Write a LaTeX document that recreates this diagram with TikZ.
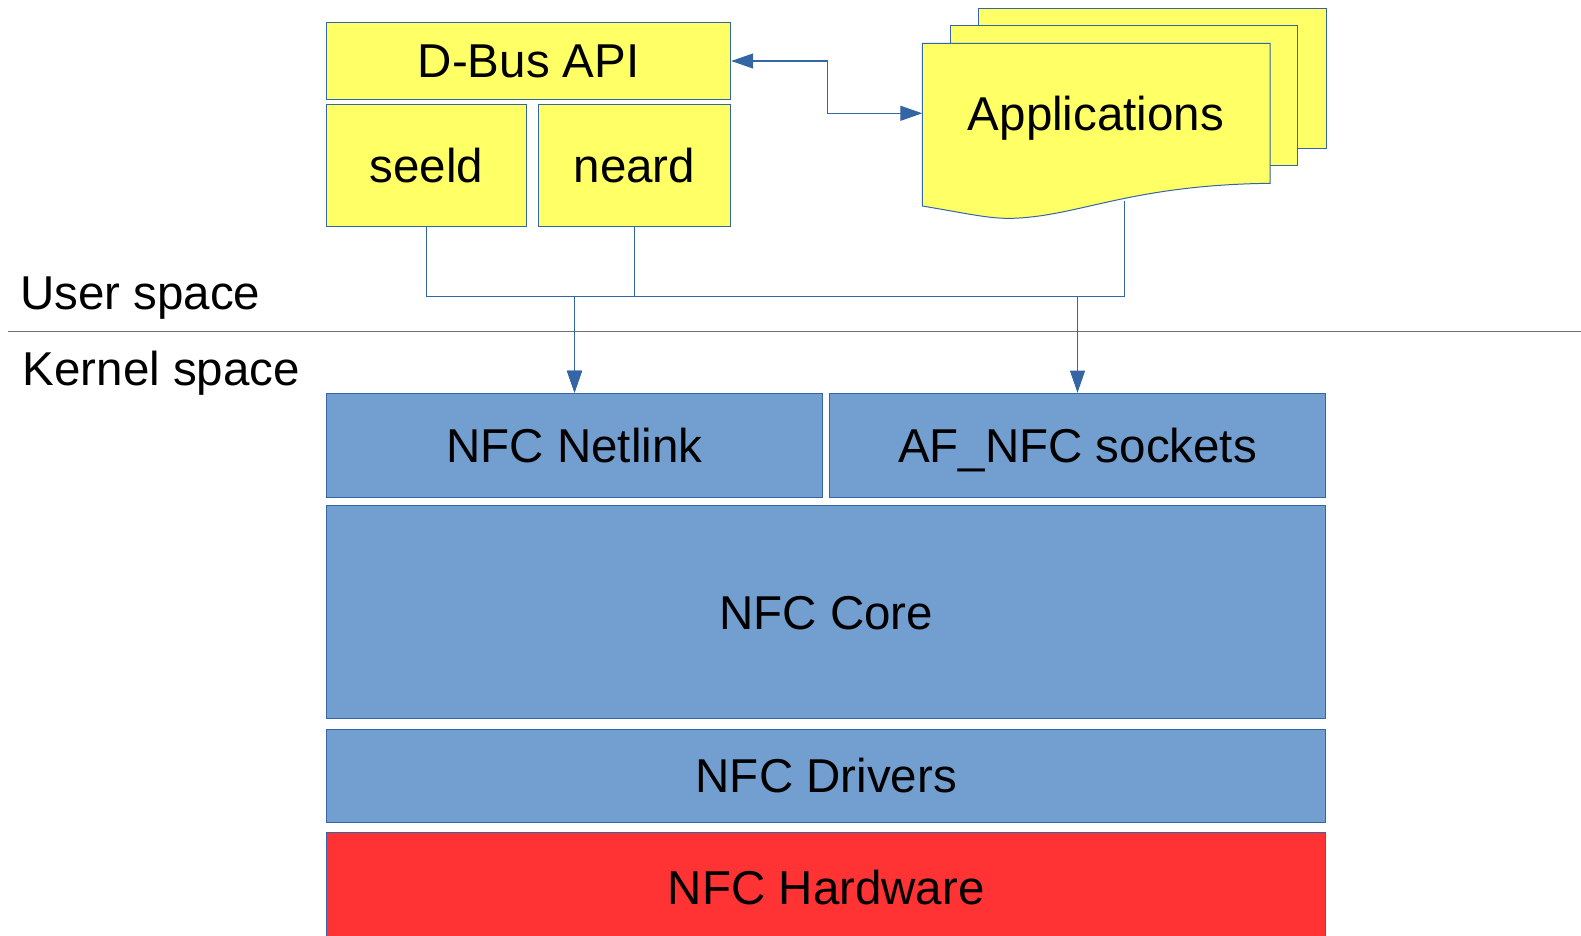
\documentclass[tikz,border=0pt]{standalone}
\usepackage{fontspec}
\setmainfont{Liberation Sans}
\usetikzlibrary{arrows.meta}
\definecolor{ylw}{HTML}{FFFF66}
\definecolor{bfill}{HTML}{729FCF}
\definecolor{bline}{HTML}{3465A4}
\definecolor{hwred}{HTML}{FF3333}
\definecolor{sepgray}{HTML}{707070}
\begin{document}
\begin{tikzpicture}[x=1pt,y=-1pt,
  lbl/.style={font=\fontsize{47.5}{57}\selectfont, text height=34pt, text depth=0pt, inner sep=0pt},
  ybox/.style={lbl, draw=bline, fill=ylw, line width=1pt},
  bbox/.style={lbl, draw=bline, fill=bfill, line width=1pt},
  page/.style={draw=bline, fill=ylw, line width=1pt},
  conn/.style={draw=bline, line width=1pt, -{Triangle[length=22pt,width=15pt]}},
  conn2/.style={draw=bline, line width=1.2pt, {Triangle[length=22pt,width=15pt]}-{Triangle[length=22pt,width=15pt]}}
]
\useasboundingbox (0,0) rectangle (1581,936);

% user-space boxes
\node[ybox, minimum width=404pt, minimum height=76.6pt] (dbus) at (528.7,61) {D-Bus API};
\node[ybox, minimum width=200pt, minimum height=121pt] (seeld) at (426.5,165.5) {seeld};
\node[ybox, minimum width=192pt, minimum height=121pt] (neard) at (634.5,165.5) {neard};

% applications stack
\path[page] (978.3,9) rectangle (1326,148.3);
\path[page] (950,26) rectangle (1297.7,166);
\path[page] (922.3,43.3) -- (1270,43.3) -- (1270,183.3)
  .. controls (1130,185) and (1080,216) .. (1013,218.3)
  .. controls (990,219) and (970,214) .. (922.3,206) -- cycle;
\node[lbl] (apps) at (1096,113.3) {Applications};
\coordinate (appin) at (922.3,113.3);
\coordinate (appout) at (1124.5,200.5);

% kernel boxes
\node[bbox, minimum width=496.1pt, minimum height=103.9pt] (netlink) at (574.5,445.15) {NFC Netlink};
\node[bbox, minimum width=496.1pt, minimum height=103.9pt] (afnfc) at (1077.5,445.15) {AF\_NFC sockets};
\node[bbox, minimum width=999.2pt, minimum height=213.7pt] (core) at (826.3,612) {NFC Core};
\node[bbox, minimum width=999.2pt, minimum height=93.8pt] (drivers) at (826.3,775.9) {NFC Drivers};
\node[lbl, draw=bline, fill=hwred, line width=1pt, minimum width=999.2pt, minimum height=109pt] (hw) at (826.3,887.4) {NFC Hardware};

% separator and labels
\draw[sepgray, line width=1.3pt] (8,331.7) -- (1581,331.7);
\node[lbl, anchor=base west] (user) at (20,309.3) {User space};
\node[lbl, anchor=base west] (kernel) at (22.5,385) {Kernel space};

% connectors
\draw[conn2] (dbus.east) -- ++(96,0) |- (appin);
\draw[conn] (seeld.south) -- (426.5,296.5) -| (netlink.north);
\draw[conn] (neard.south) -- (634.5,296.5) -| (afnfc.north);
\draw[conn] (appout) -- (1124.5,296.5) -| (netlink.north);
\end{tikzpicture}
\end{document}
